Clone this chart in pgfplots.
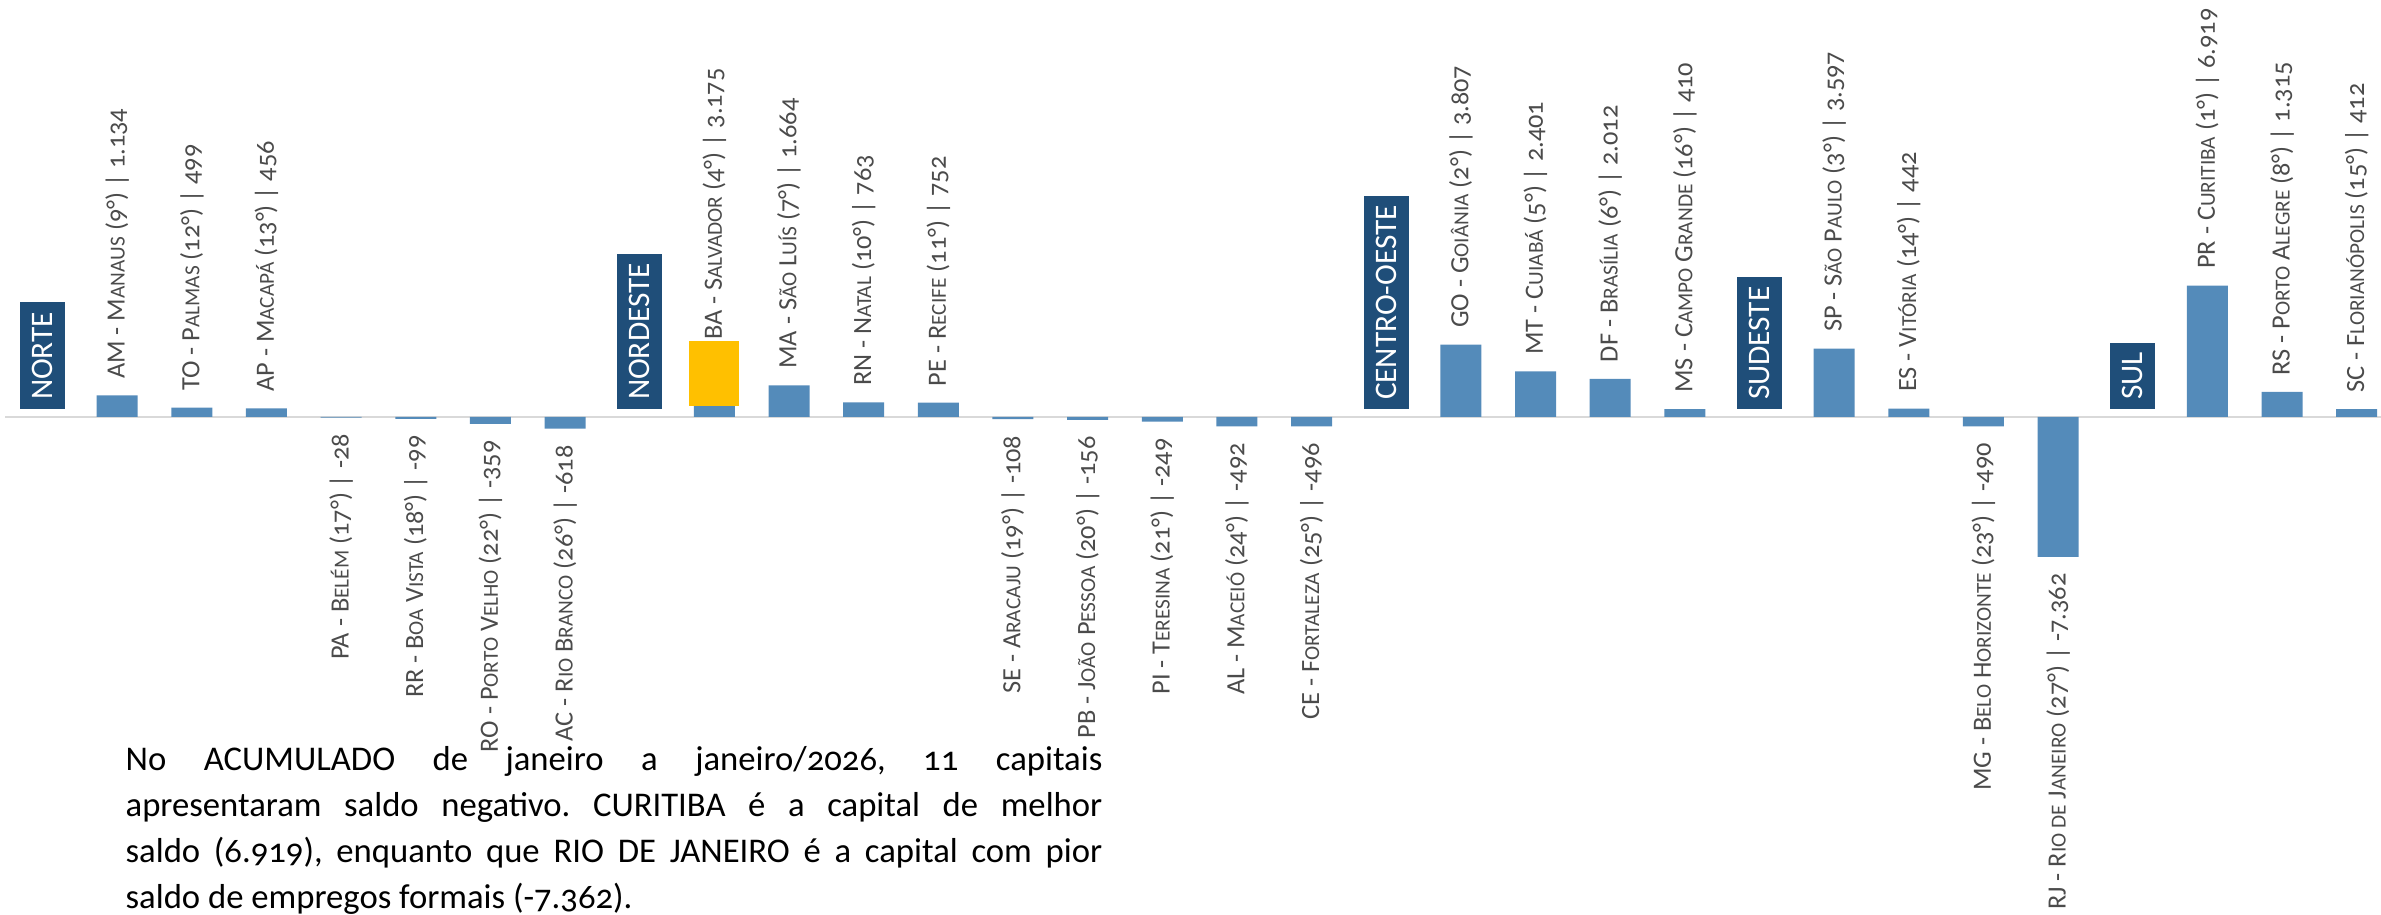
\documentclass[border=0pt]{standalone}
\usepackage{fontspec}
\setmainfont{Carlito}[Numbers=OldStyle]
\usepackage{pgfplots}
\pgfplotsset{compat=1.18}
\definecolor{barblue}{RGB}{84,139,186}
\definecolor{navy}{RGB}{31,78,121}
\definecolor{hl}{RGB}{255,192,0}
\definecolor{lbl}{RGB}{75,75,75}
\definecolor{basel}{RGB}{217,217,217}
\DeclareRobustCommand{\Sc}[1]{{\fontsize{6.4pt}{6.4pt}\selectfont #1}}
\newcommand{\lblfont}{\fontsize{7.9pt}{7.9pt}\selectfont}
\newcommand{\regfont}{\fontsize{9.4pt}{9.4pt}\selectfont}
\frenchspacing
\begin{document}
\begin{tikzpicture}
\begin{axis}[
  at={(12.75pt,149.4pt)}, anchor=origin,
  x=22.395pt, y=0.0057pt,
  xmin=-0.55, xmax=31.45, ymin=-7600, ymax=7300,
  hide axis, clip=false,
]
% baseline
\addplot[basel, line width=0.75pt, forget plot] coordinates {(-0.5,0) (31.45,0)};
% positive bars
\addplot[ybar, bar width=12.3pt, bar shift=0pt, fill=barblue, draw=none,
  nodes near coords, point meta=explicit symbolic,
  every node near coord/.append style={rotate=90, anchor=west, font=\lblfont, text=lbl, inner xsep=4.8pt, inner ysep=0pt}]
coordinates {
(1,1134) [AM - M\Sc{ANAUS} (9°) | 1.134]
(2,499) [TO - P\Sc{ALMAS} (12°) | 499]
(3,456) [AP - M\Sc{ACAPÁ} (13°) | 456]
(9,3175) [BA - S\Sc{ALVADOR} (4°) | 3.175]
(10,1664) [MA - S\Sc{ÃO} L\Sc{UÍS} (7°) | 1.664]
(11,763) [RN - N\Sc{ATAL} (10°) | 763]
(12,752) [PE - R\Sc{ECIFE} (11°) | 752]
(19,3807) [GO - G\Sc{OIÂNIA} (2°) | 3.807]
(20,2401) [MT - C\Sc{UIABÁ} (5°) | 2.401]
(21,2012) [DF - B\Sc{RASÍLIA} (6°) | 2.012]
(22,410) [MS - C\Sc{AMPO} G\Sc{RANDE} (16°) | 410]
(24,3597) [SP - S\Sc{ÃO} P\Sc{AULO} (3°) | 3.597]
(25,442) [ES - V\Sc{ITÓRIA} (14°) | 442]
(29,6919) [PR - C\Sc{URITIBA} (1°) | 6.919]
(30,1315) [RS - P\Sc{ORTO} A\Sc{LEGRE} (8°) | 1.315]
(31,412) [SC - F\Sc{LORIANÓPOLIS} (15°) | 412]
};
% negative bars
\addplot[ybar, bar width=12.3pt, bar shift=0pt, fill=barblue, draw=none,
  nodes near coords, point meta=explicit symbolic,
  every node near coord/.append style={rotate=90, anchor=east, font=\lblfont, text=lbl, inner xsep=4.8pt, inner ysep=0pt}]
coordinates {
(4,-28) [PA - B\Sc{ELÉM} (17°) | -28]
(5,-99) [RR - B\Sc{OA} V\Sc{ISTA} (18°) | -99]
(6,-359) [RO - P\Sc{ORTO} V\Sc{ELHO} (22°) | -359]
(7,-618) [AC - R\Sc{IO} B\Sc{RANCO} (26°) | -618]
(13,-108) [SE - A\Sc{RACAJU} (19°) | -108]
(14,-156) [PB - J\Sc{OÃO} P\Sc{ESSOA} (20°) | -156]
(15,-249) [PI - T\Sc{ERESINA} (21°) | -249]
(16,-492) [AL - M\Sc{ACEIÓ} (24°) | -492]
(17,-496) [CE - F\Sc{ORTALEZA} (25°) | -496]
(26,-490) [MG - B\Sc{ELO} H\Sc{ORIZONTE} (23°) | -490]
(27,-7362) [RJ - R\Sc{IO DE} J\Sc{ANEIRO} (27°) | -7.362]
};
% highlight
\fill[hl] (axis cs:8.665,579) rectangle (axis cs:9.335,4000);
% region boxes
\addplot[draw=none, mark=none,
  nodes near coords, point meta=explicit symbolic,
  every node near coord/.append style={rotate=90, anchor=west, fill=navy, text=white, font=\regfont, inner xsep=2.8pt, inner ysep=0pt, minimum height=13.5pt}]
coordinates {(0,368) [NORTE] (8,368) [NORDESTE] (18,368) [CENTRO-OESTE] (23,368) [SUDESTE] (28,368) [SUL]};
\end{axis}
\node[anchor=base west, inner sep=0pt, text width=293pt, align=justify,
  font=\fontsize{10.4pt}{13.8pt}\selectfont] at (37.5pt,43.2pt)
{No ACUMULADO de janeiro a janeiro/2026, 11 capitais\linebreak apresentaram saldo negativo. CURITIBA é a capital de melhor\linebreak saldo (6.919), enquanto que RIO DE JANEIRO é a capital com pior\linebreak saldo de empregos formais (-7.362).};
\pgfresetboundingbox
\path[use as bounding box] (0,0) rectangle (714.3pt,274.5pt);
\end{tikzpicture}
\end{document}
